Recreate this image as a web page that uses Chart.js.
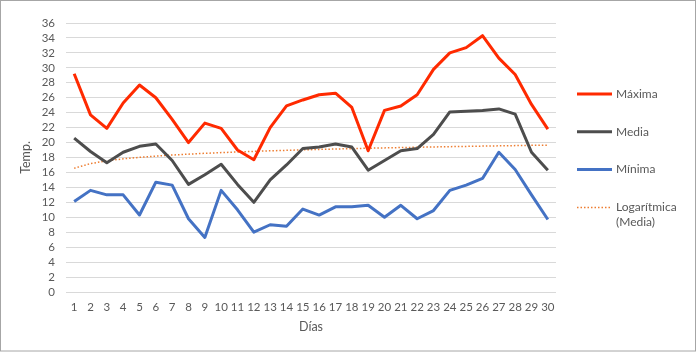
<!DOCTYPE html>
<html>
<head>
<meta charset="utf-8">
<script src="https://cdn.jsdelivr.net/npm/chart.js@4.4.1/dist/chart.umd.min.js"></script>
<style>
  html, body { margin: 0; padding: 0; background: #fff; }
  #wrap { position: relative; width: 697px; height: 352px; }
</style>
</head>
<body>
<div id="wrap"><canvas id="chart" width="697" height="352"></canvas></div>
<script>
const dias = [1, 2, 3, 4, 5, 6, 7, 8, 9, 10, 11, 12, 13, 14, 15, 16, 17, 18, 19, 20, 21, 22, 23, 24, 25, 26, 27, 28, 29, 30];
const maxima = [29.2, 23.7, 21.9, 25.3, 27.7, 26.0, 23.1, 20.0, 22.6, 21.9, 19.0, 17.7, 22.0, 24.9, 25.7, 26.4, 26.6, 24.7, 18.9, 24.3, 24.9, 26.4, 29.8, 32.0, 32.7, 34.3, 31.3, 29.1, 25.1, 21.8];
const media = [20.6, 18.8, 17.3, 18.7, 19.5, 19.8, 17.6, 14.4, 15.7, 17.1, 14.4, 12.0, 15.0, 17.0, 19.2, 19.4, 19.8, 19.4, 16.3, 17.6, 18.9, 19.2, 21.1, 24.1, 24.2, 24.3, 24.5, 23.8, 18.7, 16.3];
const minima = [12.1, 13.6, 13.0, 13.0, 10.3, 14.7, 14.3, 9.8, 7.3, 13.6, 11.0, 8.0, 9.0, 8.8, 11.1, 10.3, 11.4, 11.4, 11.6, 10.0, 11.6, 9.8, 10.9, 13.6, 14.3, 15.2, 18.7, 16.4, 13.0, 9.7];
const y_ticks = [0, 2, 4, 6, 8, 10, 12, 14, 16, 18, 20, 22, 24, 26, 28, 30, 32, 34, 36];

const text_color = "#595959";
const font_family = "Lato, 'Liberation Sans', sans-serif";

// logarithmic trend line (least squares on ln(x)) fitted to the "Media" series, as the spreadsheet does
function log_trend(xs, ys) {
  const lx = xs.map(x => Math.log(x));
  const n = xs.length;
  const mx = lx.reduce((a, b) => a + b, 0) / n;
  const my = ys.reduce((a, b) => a + b, 0) / n;
  let sxy = 0, sxx = 0;
  lx.forEach((v, i) => { sxy += (v - mx) * (ys[i] - my); sxx += (v - mx) * (v - mx); });
  const a = sxy / sxx;
  const b = my - a * mx;
  return lx.map(v => a * v + b);
}
const tendencia = log_trend(dias, media);

const legend_items = [
  { text: ["Máxima"], color: "#FF2A00", dotted: false },
  { text: ["Media"], color: "#4D4D4D", dotted: false },
  { text: ["Mínima"], color: "#4472C4", dotted: false },
  { text: ["Logarítmica", "(Media)"], color: "#ED7D31", dotted: true },
];

const side_legend = {
  id: "side_legend",
  afterDraw(chart) {
    const ctx = chart.ctx;
    ctx.save();
    ctx.font = "12px " + font_family;
    ctx.textBaseline = "middle";
    ctx.fillStyle = text_color;
    legend_items.forEach((item, i) => {
      const y = 94 + i * 37.8;
      ctx.beginPath();
      ctx.strokeStyle = item.color;
      if (item.dotted) {
        ctx.lineWidth = 1.5;
        ctx.setLineDash([1.5, 2]);
      } else {
        ctx.lineWidth = 3;
        ctx.setLineDash([]);
      }
      ctx.moveTo(577, y);
      ctx.lineTo(612, y);
      ctx.stroke();
      item.text.forEach((t, j) => ctx.fillText(t, 616, y + j * 15));
    });
    ctx.setLineDash([]);
    ctx.strokeStyle = "#A6A6A6";
    ctx.lineWidth = 1;
    ctx.strokeRect(0.5, 0.5, 695, 350.5);
    ctx.restore();
  },
};

new Chart(document.getElementById("chart"), {
  type: "line",
  data: {
    labels: dias,
    datasets: [
      { label: "Máxima", data: maxima, borderColor: "#FF2A00", borderWidth: 3 },
      { label: "Media", data: media, borderColor: "#4D4D4D", borderWidth: 3 },
      { label: "Mínima", data: minima, borderColor: "#4472C4", borderWidth: 3 },
      { label: "Logarítmica (Media)", data: tendencia, borderColor: "#ED7D31", borderWidth: 1.5, borderDash: [1.5, 2] },
    ],
  },
  options: {
    responsive: false,
    animation: false,
    devicePixelRatio: 1,
    layout: { padding: { top: 23, right: 141, bottom: 0, left: 0 } },
    elements: {
      point: { radius: 0 },
      line: { tension: 0, borderCapStyle: "butt", borderJoinStyle: "round" },
    },
    plugins: { legend: { display: false }, tooltip: { enabled: false } },
    scales: {
      x: {
        offset: true,
        grid: { display: false, drawTicks: false },
        border: { display: false },
        ticks: { color: text_color, font: { family: font_family, size: 11.5 }, padding: 8, maxRotation: 0, autoSkip: false },
        title: { display: true, text: "Días", color: text_color, font: { family: font_family, size: 12.5 }, padding: { top: 0, bottom: 18 } },
        afterFit(scale) { scale.height = 60; },
      },
      y: {
        min: 0,
        max: 36,
        afterBuildTicks(scale) { scale.ticks = y_ticks.map(v => ({ value: v })); },
        grid: { color: "#D9D9D9", lineWidth: 1, drawTicks: false },
        border: { display: false },
        ticks: { color: text_color, font: { family: font_family, size: 11.5 }, padding: 11, autoSkip: false },
        title: { display: true, text: "Temp.", color: text_color, font: { family: font_family, size: 12.5 }, padding: { top: 18, bottom: 0 } },
        afterFit(scale) { scale.width = 66; },
      },
    },
  },
  plugins: [side_legend],
});
</script>
</body>
</html>
